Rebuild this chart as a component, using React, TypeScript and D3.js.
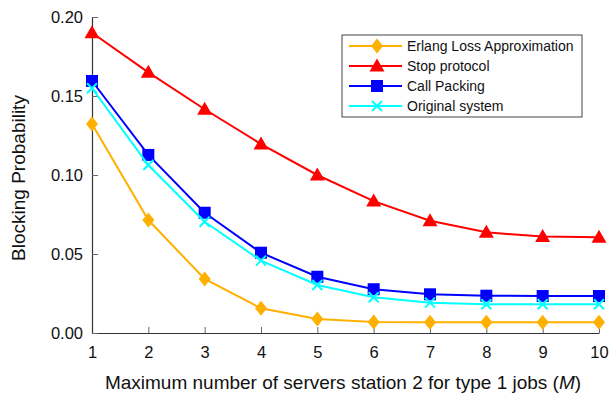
import React, { useEffect, useRef } from 'react';
import * as d3 from 'd3';

// values
const serversM = [1, 2, 3, 4, 5, 6, 7, 8, 9, 10];
const erlangLoss = [0.1323, 0.0715, 0.0342, 0.0156, 0.0089, 0.0070, 0.0068, 0.0068, 0.0068, 0.0068];
const stopProtocol = [0.190, 0.165, 0.1416, 0.1196, 0.100, 0.0835, 0.0711, 0.0637, 0.061, 0.0606];
const callPacking = [0.1595, 0.1127, 0.0761, 0.0508, 0.0356, 0.0277, 0.0245, 0.0236, 0.0234, 0.0234];
const originalSystem = [0.1549, 0.1063, 0.0704, 0.0458, 0.0304, 0.0226, 0.0192, 0.0182, 0.0182, 0.0182];
const yTicks = [0, 0.05, 0.1, 0.15, 0.2];

const seriesList = [
  { name: 'Erlang Loss Approximation', values: erlangLoss, color: '#FFB000', marker: 'diamond' },
  { name: 'Stop protocol', values: stopProtocol, color: '#FF0000', marker: 'triangle' },
  { name: 'Call Packing', values: callPacking, color: '#0000FF', marker: 'square' },
  { name: 'Original system', values: originalSystem, color: '#00FFFF', marker: 'cross' },
];

const W = 613;
const H = 402;
const FONT = '"Liberation Sans", Arial, Helvetica, sans-serif';

const App = () => {
  const svgRef = useRef<SVGSVGElement>(null);

  useEffect(() => {
    const svg = d3.select(svgRef.current);
    svg.selectAll('*').remove();

    const margin = { top: 17, right: 14, bottom: 69, left: 92 };
    const x = d3.scaleLinear().domain([1, 10]).range([margin.left, W - margin.right]);
    const y = d3.scaleLinear().domain([0, 0.2]).range([H - margin.bottom, margin.top]);

    const axisColor = '#333';

    // x axis, ticks pointing inside
    const gx = svg.append('g')
      .attr('transform', `translate(0,${y(0)})`)
      .call(d3.axisBottom(x).tickValues(serversM).tickFormat(d3.format('d')).tickSizeInner(-6).tickSizeOuter(0).tickPadding(13));
    gx.select('.domain').attr('stroke', axisColor).attr('stroke-width', 1.2);
    gx.selectAll('.tick line').attr('stroke', '#666');
    gx.selectAll('.tick text').attr('font-family', FONT).attr('font-size', 16.5).attr('fill', '#111');

    // y axis
    const gy = svg.append('g')
      .attr('transform', `translate(${x(1)},0)`)
      .call(d3.axisLeft(y).tickValues(yTicks).tickFormat(d3.format('.2f')).tickSizeInner(-6).tickSizeOuter(0).tickPadding(9));
    gy.select('.domain').attr('stroke', axisColor).attr('stroke-width', 1.2);
    gy.selectAll('.tick line').attr('stroke', '#666');
    gy.selectAll('.tick text').attr('font-family', FONT).attr('font-size', 16.5).attr('fill', '#111');

    // axis titles
    svg.append('text')
      .attr('x', 343)
      .attr('y', 389)
      .attr('text-anchor', 'middle')
      .attr('font-family', FONT)
      .attr('font-size', 19)
      .attr('fill', '#111')
      .html('Maximum number of servers station 2 for type 1 jobs (<tspan font-style="italic">M</tspan>)');

    svg.append('text')
      .attr('transform', `translate(25,178) rotate(-90)`)
      .attr('text-anchor', 'middle')
      .attr('font-family', FONT)
      .attr('font-size', 19)
      .attr('fill', '#111')
      .text('Blocking Probability');

    const drawMarker = (g: any, kind: string, color: string) => {
      if (kind === 'diamond') {
        g.append('path').attr('d', 'M0,-7.5L6,0L0,7.5L-6,0Z').attr('fill', color);
      } else if (kind === 'triangle') {
        g.append('path').attr('d', 'M0,-7.5L7.5,5.5L-7.5,5.5Z').attr('fill', color);
      } else if (kind === 'square') {
        g.append('rect').attr('x', -6).attr('y', -6).attr('width', 12).attr('height', 12).attr('fill', color);
      } else {
        g.append('path').attr('d', 'M-5,-5L5,5M-5,5L5,-5').attr('stroke', color).attr('stroke-width', 2).attr('fill', 'none');
      }
    };

    const line = d3.line<number>()
      .x((d, i) => x(serversM[i]))
      .y(d => y(d));

    seriesList.forEach(s => {
      svg.append('path')
        .datum(s.values)
        .attr('fill', 'none')
        .attr('stroke', s.color)
        .attr('stroke-width', 2)
        .attr('d', line);

      s.values.forEach((v, i) => {
        const g = svg.append('g').attr('transform', `translate(${x(serversM[i])},${y(v)})`);
        drawMarker(g, s.marker, s.color);
      });
    });

    // legend
    const legend = svg.append('g').attr('transform', 'translate(342,35)');
    legend.append('rect')
      .attr('width', 240)
      .attr('height', 82)
      .attr('fill', 'white')
      .attr('stroke', '#444')
      .attr('stroke-width', 1);

    seriesList.forEach((s, i) => {
      const row = legend.append('g').attr('transform', `translate(0,${11 + i * 20})`);
      row.append('line').attr('x1', 7).attr('x2', 60).attr('stroke', s.color).attr('stroke-width', 2);
      drawMarker(row.append('g').attr('transform', 'translate(35,0)'), s.marker, s.color);
      row.append('text')
        .attr('x', 65)
        .attr('dy', '0.35em')
        .attr('font-family', FONT)
        .attr('font-size', 14)
        .attr('fill', '#111')
        .text(s.name);
    });
  }, []);

  return (
    <svg ref={svgRef} width={W} height={H} style={{ position: 'absolute', left: 0, top: 0, background: 'white' }} />
  );
};

export default App;
